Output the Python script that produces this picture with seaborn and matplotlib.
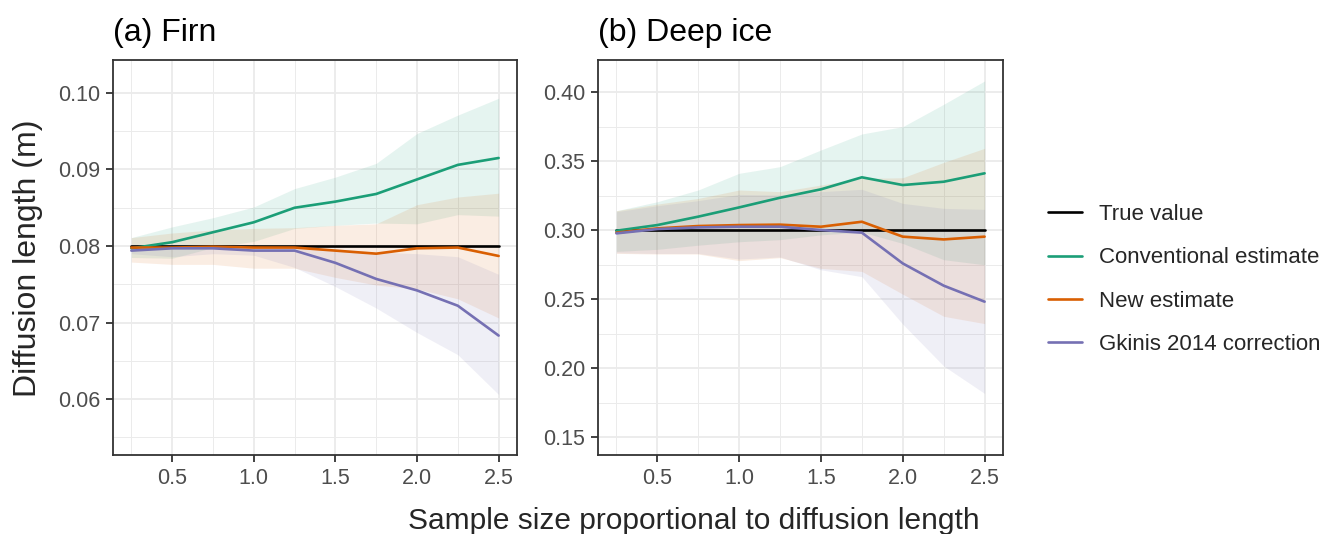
import numpy as np
import pandas as pd
import matplotlib
matplotlib.use("Agg")
import matplotlib.pyplot as plt
import seaborn as sns
from matplotlib.ticker import MultipleLocator
from matplotlib.lines import Line2D

sns.set_theme(style="white")
plt.rcParams['font.family'] = ['Liberation Sans', 'DejaVu Sans']

x = [0.25, 0.5, 0.75, 1.0, 1.25, 1.5, 1.75, 2.0, 2.25, 2.5]

# (a) Firn
firn_true = [0.08] * 10
firn_conv = [0.0797, 0.0805, 0.0818, 0.0831, 0.0850, 0.0858, 0.0868, 0.0887, 0.0906, 0.0915]
firn_conv_lo = [0.0785, 0.0784, 0.0798, 0.0806, 0.0823, 0.0827, 0.0830, 0.0829, 0.0841, 0.0839]
firn_conv_hi = [0.0811, 0.0825, 0.0837, 0.0851, 0.0875, 0.0890, 0.0908, 0.0947, 0.0971, 0.0993]
firn_new = [0.0798, 0.0798, 0.0799, 0.0798, 0.0798, 0.0794, 0.0790, 0.0797, 0.0798, 0.0787]
firn_new_lo = [0.0779, 0.0776, 0.0776, 0.0771, 0.0771, 0.0759, 0.0749, 0.0744, 0.0731, 0.0706]
firn_new_hi = [0.0811, 0.0817, 0.0821, 0.0823, 0.0824, 0.0827, 0.0829, 0.0854, 0.0864, 0.0869]
firn_gk = [0.0794, 0.0797, 0.0797, 0.0794, 0.0794, 0.0778, 0.0757, 0.0742, 0.0722, 0.0683]
firn_gk_lo = [0.0790, 0.0786, 0.0790, 0.0788, 0.0772, 0.0747, 0.0719, 0.0687, 0.0658, 0.0606]
firn_gk_hi = [0.0801, 0.0802, 0.0802, 0.0801, 0.0800, 0.0796, 0.0792, 0.0790, 0.0786, 0.0763]

# (b) Deep ice
deep_true = [0.30] * 10
deep_conv = [0.2995, 0.3036, 0.3097, 0.3164, 0.3234, 0.3295, 0.3382, 0.3326, 0.3350, 0.3411]
deep_conv_lo = [0.2845, 0.2860, 0.2890, 0.2915, 0.2930, 0.2965, 0.2985, 0.2903, 0.2785, 0.2748]
deep_conv_hi = [0.3140, 0.3205, 0.3290, 0.3411, 0.3459, 0.3580, 0.3696, 0.3749, 0.3911, 0.4080]
deep_new = [0.2981, 0.3012, 0.3029, 0.3036, 0.3039, 0.3024, 0.3060, 0.2952, 0.2932, 0.2952]
deep_new_lo = [0.2831, 0.2826, 0.2826, 0.2778, 0.2800, 0.2722, 0.2700, 0.2535, 0.2375, 0.2322]
deep_new_hi = [0.3140, 0.3188, 0.3229, 0.3290, 0.3278, 0.3326, 0.3374, 0.3379, 0.3490, 0.3592]
deep_gk = [0.2976, 0.3007, 0.3019, 0.3024, 0.3024, 0.3000, 0.2981, 0.2758, 0.2597, 0.2481]
deep_gk_lo = [0.2835, 0.2830, 0.2830, 0.2790, 0.2805, 0.2712, 0.2662, 0.2318, 0.2015, 0.1816]
deep_gk_hi = [0.3133, 0.3176, 0.3213, 0.3258, 0.3254, 0.3278, 0.3295, 0.3193, 0.3157, 0.3150]

labels = ["True value", "Conventional estimate", "New estimate", "Gkinis 2014 correction"]
colors = ["#000000", "#1B9E77", "#D95F02", "#7570B3"]
palette = dict(zip(labels, colors))

panels = [
    dict(title="(a) Firn", true=firn_true,
         series=[(firn_conv, firn_conv_lo, firn_conv_hi),
                 (firn_new, firn_new_lo, firn_new_hi),
                 (firn_gk, firn_gk_lo, firn_gk_hi)],
         ylim=(0.0527, 0.1043), major=0.01, minor=0.005, fmt="{:.2f}"),
    dict(title="(b) Deep ice", true=deep_true,
         series=[(deep_conv, deep_conv_lo, deep_conv_hi),
                 (deep_new, deep_new_lo, deep_new_hi),
                 (deep_gk, deep_gk_lo, deep_gk_hi)],
         ylim=(0.137, 0.4232), major=0.05, minor=0.025, fmt="{:.2f}"),
]

W, H = 1324, 534
fig = plt.figure(figsize=(W / 100, H / 100), dpi=100)
axes_px = [(113, 517), (598, 1003)]
top_px, bot_px = 60, 455

tick_fs = 15.5
for (x0, x1), p in zip(axes_px, panels):
    ax = fig.add_axes([x0 / W, (H - bot_px) / H, (x1 - x0) / W, (bot_px - top_px) / H])
    for (mid, lo, hi), c in zip(p["series"], colors[1:]):
        ax.fill_between(x, lo, hi, color=c, alpha=0.11, linewidth=0, zorder=1)
    rows = []
    for lab, vals in zip(labels, [p["true"]] + [s[0] for s in p["series"]]):
        for xi, v in zip(x, vals):
            rows.append(dict(x=xi, y=v, series=lab))
    df = pd.DataFrame(rows)
    sns.lineplot(data=df, x="x", y="y", hue="series", hue_order=labels,
                 palette=palette, linewidth=1.9, ax=ax, legend=False, zorder=3)
    ax.set_xlim(0.1375, 2.6125)
    ax.set_ylim(*p["ylim"])
    ax.xaxis.set_minor_locator(MultipleLocator(0.25))
    ax.yaxis.set_major_locator(MultipleLocator(p["major"]))
    ax.yaxis.set_minor_locator(MultipleLocator(p["minor"]))
    ax.set_xticks([0.5, 1.0, 1.5, 2.0, 2.5])
    ax.set_xticklabels(["0.5", "1.0", "1.5", "2.0", "2.5"])
    yt = [t for t in ax.get_yticks() if p["ylim"][0] <= t <= p["ylim"][1]]
    ax.set_yticks(yt)
    ax.set_yticklabels([p["fmt"].format(t) for t in yt])
    ax.grid(True, which="major", color="#EBEBEB", linewidth=1.3, zorder=0)
    ax.grid(True, which="minor", color="#EBEBEB", linewidth=0.7, zorder=0)
    ax.set_axisbelow(True)
    for s in ax.spines.values():
        s.set_color("#333333")
        s.set_linewidth(1.3)
    ax.tick_params(axis="both", which="major", length=5, width=1.3, color="#333333",
                   labelsize=tick_fs, labelcolor="#4D4D4D", pad=4, direction="out",
                   bottom=True, left=True)
    ax.tick_params(axis="both", which="minor", length=0)
    ax.set_xlabel("")
    ax.set_ylabel("")
    ax.set_title(p["title"], loc="left", fontsize=23, pad=14, color="black")

fig.text(28 / W, 1 - 258 / H, "Diffusion length (m)", rotation=90, ha="center", va="center",
         fontsize=23)
fig.text(694 / W, 5 / H, "Sample size proportional to diffusion length", ha="center",
         va="baseline", fontsize=21.5)

handles = [Line2D([0], [0], color=c, linewidth=1.9) for c in colors]
fig.legend(handles, labels, loc="center left", bbox_to_anchor=(1048 / W, 1 - 279.5 / H),
           frameon=False, fontsize=16, handlelength=1.55, handletextpad=0.75,
           labelspacing=1.0, borderpad=0, borderaxespad=0)

fig.savefig("out.png", dpi=100)
